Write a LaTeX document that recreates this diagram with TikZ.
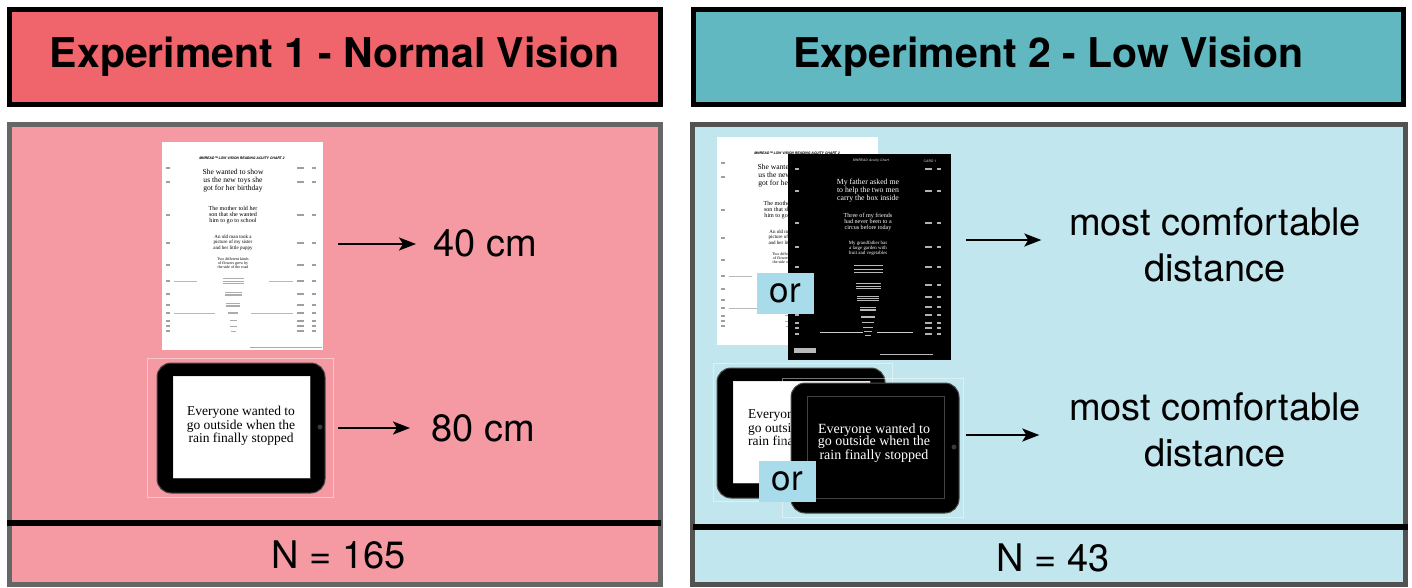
\documentclass[tikz,border=0pt]{standalone}
\usepackage{fontspec}
\setmainfont{TeX Gyre Heros}
\newfontfamily\chartserif{Liberation Serif}
\usetikzlibrary{arrows.meta, positioning}

\definecolor{redhead}{HTML}{F0656C}
\definecolor{redbody}{HTML}{F59AA2}
\definecolor{bluehead}{HTML}{62B8C0}
\definecolor{bluebody}{HTML}{C2E6EE}
\definecolor{orblue}{HTML}{A8DCEA}
\definecolor{boxgrey}{HTML}{666666}

\tikzset{
  headbox/.style={draw=black, line width=5pt, inner sep=0pt, font=\bfseries\fontsize{41}{48}\selectfont},
  bodybox/.style={draw=boxgrey, line width=5pt, inner sep=0pt},
  big/.style={font=\fontsize{38}{46}\selectfont, inner sep=0pt, align=center},
  arr/.style={-{Stealth[length=17pt,width=13pt,inset=4pt]}, line width=2pt},
  orbox/.style={fill=orblue, font=\fontsize{35}{40}\selectfont, minimum width=57pt, minimum height=41pt, inner sep=0pt},
  frame/.style={draw=white, draw opacity=0.45, line width=0.8pt},
  screentext/.style={inner sep=0pt, font=\chartserif\fontsize{13.5}{13.5}\selectfont},
  % reading chart, white page
  pics/chart/.style={code={
    \fill[white] (0,0) rectangle (161,208);
    \node[inner sep=0pt, font=\bfseries\itshape\fontsize{3.4}{4}\selectfont] (-title) at (80,16) {MNREAD\texttrademark{} LOW VISION READING ACUITY CHART 2};
    \node[inner sep=0pt, align=center, font=\chartserif\fontsize{7.6}{8}\selectfont] (-s1) at (71,39) {She wanted to show\\us the new toys she\\got for her birthday};
    \node[inner sep=0pt, align=center, font=\chartserif\fontsize{6.1}{6.2}\selectfont] (-s2) at (71,73) {The mother told her\\son that she wanted\\him to go to school};
    \node[inner sep=0pt, align=center, font=\chartserif\fontsize{5}{5.4}\selectfont] (-s3) at (71,100.5) {An old man took a\\picture of my sister\\and her little puppy};
    \node[inner sep=0pt, align=center, font=\chartserif\fontsize{4}{3.8}\selectfont] (-s4) at (71,121) {Two different kinds\\of flowers grew by\\the side of the road};
    \foreach \y in {26,40,73,101,123,139,152,163,171,179,184,189}{
      \fill[gray!75] (4,\y-0.6) rectangle (8,\y+0.6);
      \fill[gray!75] (135,\y-0.6) rectangle (142,\y+0.6);
      \fill[gray!75] (150,\y-0.6) rectangle (154,\y+0.6);
    }
    \foreach \y/\w/\n/\d in {139/21/3/2.2, 152/17/3/1.8, 163/14/3/1.5, 171/10/2/1.5, 178/7/1/0, 184/7/1/0, 189/5/1/0}
      \foreach \k in {1,...,\n}
        \fill[gray!65] (71-\w/2,\y+\k*\d-\n*\d/2-\d/2-0.45) rectangle (71+\w/2,\y+\k*\d-\n*\d/2-\d/2+0.45);
    \draw[gray!55, line width=0.5pt] (12,139) -- (35,139) (107,139) -- (131,139)
      (12,171) -- (53,171) (89,171) -- (131,171);
    \fill[gray!65] (88,204.5) rectangle (160,205.7);
  }},
  % reading chart, black card
  pics/card/.style={code={
    \fill[black] (0,0) rectangle (163,206);
    \node[inner sep=0pt, text=gray!80, font=\bfseries\itshape\fontsize{3.4}{4}\selectfont] (-title) at (83,7) {MNREAD Acuity Chart};
    \node[inner sep=0pt, text=gray!80, font=\bfseries\fontsize{3.4}{4}\selectfont] (-card) at (142,7) {CARD 1};
    \node[inner sep=0pt, align=center, text=white, font=\chartserif\fontsize{7.8}{8}\selectfont] (-s1) at (80,37) {My father asked me\\to help the two men\\carry the box inside};
    \node[inner sep=0pt, align=center, text=white, font=\chartserif\fontsize{6.1}{6.4}\selectfont] (-s2) at (80,68) {Three of my friends\\had never been to a\\circus before today};
    \node[inner sep=0pt, align=center, text=white, font=\chartserif\fontsize{4.9}{5}\selectfont] (-s3) at (80,94) {My grandfather has\\a large garden with\\fruit and vegetables};
    \foreach \y in {15,37,69,93,113,131,143,153,161,169,174,180}{
      \fill[gray!60] (7,\y-0.6) rectangle (11,\y+0.6);
      \fill[gray!60] (137,\y-0.6) rectangle (144,\y+0.6);
      \fill[gray!60] (149,\y-0.6) rectangle (153,\y+0.6);
    }
    \foreach \y/\w/\n/\d in {115/29/3/3.6, 132/25/3/2.6, 144.5/22/3/2.2, 155/16/3/1.5, 163/14/2/1.4, 168/12/1/0, 173/10/1/0, 177/8/1/0, 181/6/1/0}
      \foreach \k in {1,...,\n}
        \fill[gray!55] (80-\w/2,\y+\k*\d-\n*\d/2-\d/2-0.45) rectangle (80+\w/2,\y+\k*\d-\n*\d/2-\d/2+0.45);
    \draw[gray!40, line width=0.5pt] (32,178) -- (75,178) (89,178) -- (125,178);
    \fill[gray!55] (6,194) rectangle (28,199);
    \fill[gray!55] (92,199.5) rectangle (145,200.7);
  }},
  % tablet with its screen colour
  pics/tablet/.style={code={
    \fill[black, rounded corners=14pt] (0,0) rectangle (168,130);
    \draw[gray!60!black, rounded corners=14pt, line width=1pt] (0,0) rectangle (168,130);
    \fill[#1] (16,13) rectangle (153,115);
    \draw[gray!50, opacity=0.35, line width=0.6pt] (16,13) rectangle (153,115);
    \fill[gray!45!black] (163,64) circle (2.5pt);
  }}
}

\begin{document}
\begin{tikzpicture}[x=1pt, y=-1pt]
  \useasboundingbox (0,0) rectangle (1412,587);
  \fill[white] (0,0) rectangle (1412,587);

  % Experiment 1
  \node[headbox, fill=redhead, minimum width=651pt, minimum height=95pt] (headA) at (335,57) {Experiment 1 - Normal Vision};
  \node[bodybox, fill=redbody, minimum width=651pt, minimum height=460pt] (bodyA) at (335,354.5) {};
  \draw[line width=6pt] (7,523) -- (661,523);
  \node[big] (nA) at (339,555) {N = 165};

  \pic (chartA) at (162,142) {chart};
  \draw[frame] (147,358) rectangle (333,497);
  \pic (tabA) at (157,363) {tablet=white};
  \node[screentext, align=center] (txtA) at (241,426) {Everyone wanted to\\go outside when the\\rain finally stopped};

  \node[big, anchor=west] (distA) at (433,243) {40 cm};
  \node[big, anchor=west] (distB) at (431,428) {80 cm};
  \coordinate (a1) at (338,244);
  \coordinate (a2) at (338,428);
  \draw[arr, shorten >=17pt] (a1) -- (a1 -| distA.west);
  \draw[arr, shorten >=21pt] (a2) -- (a2 -| distB.west);

  % Experiment 2
  \node[headbox, fill=bluehead, minimum width=710pt, minimum height=95pt] (headB) at (1048.5,57) {Experiment 2 - Low Vision};
  \node[bodybox, draw=black!68, fill=bluebody, minimum width=713pt, minimum height=460pt] (bodyB) at (1049,354.5) {};
  \draw[line width=6pt] (693,526.5) -- (1408,526.5);
  \node[big] (nB) at (1053,558) {N = 43};

  \pic (chartB) at (717,137) {chart};
  \pic (cardB) at (788,154) {card};
  \node[orbox] (orA) at (785.5,293.5) {or};

  \draw[frame] (713,363) rectangle (892,501);
  \pic (tabB) at (717,368) {tablet=white};
  \node[screentext, align=left, anchor=west] (txtB) at (748,428) {Everyon\\go outsi\\rain fina};
  \draw[frame] (782,378) rectangle (963,517);
  \pic (tabC) at (791,383) {tablet=black};
  \node[screentext, align=center, text=white, font=\chartserif\fontsize{14}{12.8}\selectfont] (txtC) at (874,443) {Everyone wanted to\\go outside when the\\rain finally stopped};
  \node[orbox] (orB) at (787.5,481) {or};

  \node[big] (distC) at (1215,245) {most comfortable\\distance};
  \node[big] (distD) at (1215,430) {most comfortable\\distance};
  \coordinate (a3) at (966,240);
  \coordinate (a4) at (966,435);
  \draw[arr, shorten >=27.5pt] (a3) -- (a3 -| distC.west);
  \draw[arr, shorten >=29.5pt] (a4) -- (a4 -| distD.west);
\end{tikzpicture}
\end{document}
